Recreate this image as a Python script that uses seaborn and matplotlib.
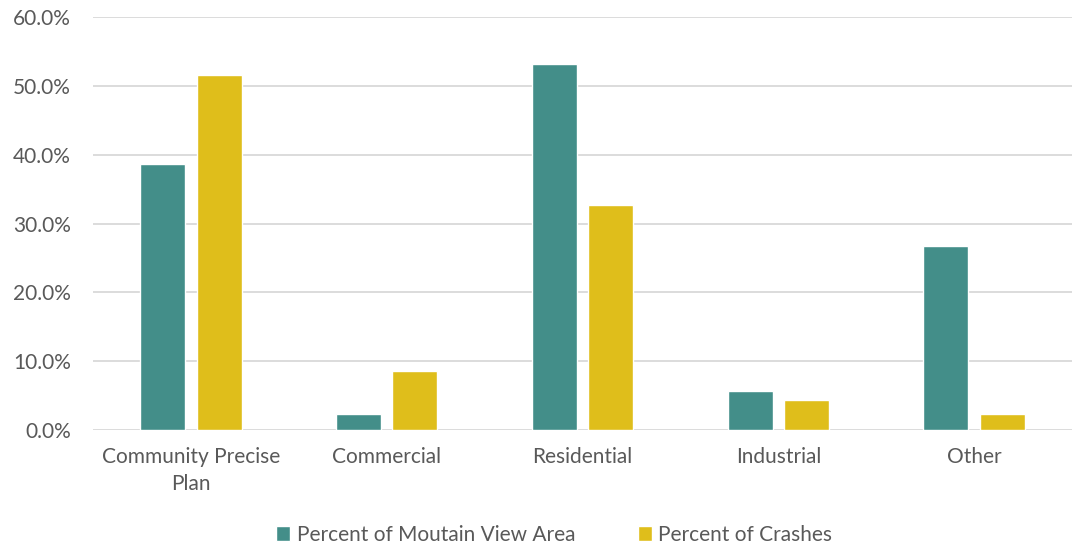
import pandas as pd
import matplotlib.pyplot as plt
import seaborn as sns
from matplotlib.ticker import PercentFormatter

# Land use categories and shares (in %)
categories = ['Community Precise\nPlan', 'Commercial', 'Residential', 'Industrial', 'Other']
pct_area = [38.6, 2.3, 53.2, 5.7, 26.7]
pct_crashes = [51.6, 8.6, 32.7, 4.4, 2.3]
series = ['Percent of Moutain View Area', 'Percent of Crashes']

df = pd.DataFrame({
    'category': categories * 2,
    'value': pct_area + pct_crashes,
    'series': [series[0]] * len(categories) + [series[1]] * len(categories),
})

sns.set_theme(style="white")
plt.rcParams['font.family'] = ['Lato', 'DejaVu Sans']
text_color = '#595959'

fig = plt.figure(figsize=(10.72, 5.48), dpi=100)
ax = fig.add_axes([0.0868, 0.2153, 0.9132, 0.7537])

sns.barplot(data=df, x='category', y='value', hue='series',
            palette=['#438E89', '#DFBE1B'], width=0.575, gap=0.2,
            saturation=1, ax=ax)

ax.set_xlim(-0.5, 4.5)
ax.set_ylim(0, 60)
ax.set_yticks(range(0, 61, 10))
ax.yaxis.set_major_formatter(PercentFormatter(decimals=1))
ax.grid(axis='y', color='#D9D9D9', linewidth=1.3)
ax.set_axisbelow(True)
for s in ax.spines.values():
    s.set_visible(False)
ax.tick_params(axis='both', length=0, labelsize=15, colors=text_color, pad=12)
ax.tick_params(axis='y', pad=16)
for lbl in ax.get_xticklabels():
    lbl.set_linespacing(1.45)
    lbl.set_horizontalalignment('center')
ax.set_xlabel('')
ax.set_ylabel('')

ax.legend(loc='center', bbox_to_anchor=(0.471, -0.254), ncol=2, frameon=False,
          fontsize=15, labelcolor=text_color, handlelength=0.7, handleheight=0.7,
          handletextpad=0.3, columnspacing=3)

fig.savefig('out.png', dpi=100)
